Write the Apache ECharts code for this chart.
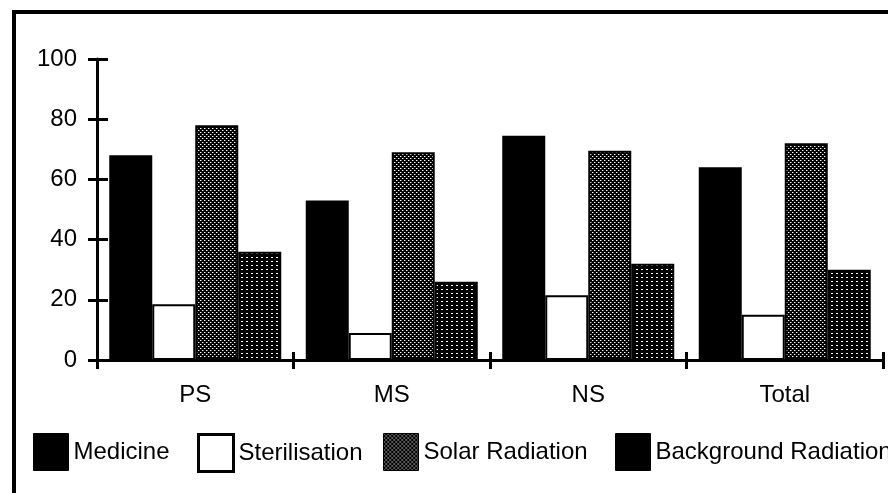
<!DOCTYPE html>
<html>
<head>
<meta charset="utf-8">
<script src="https://cdn.jsdelivr.net/npm/echarts@6/dist/echarts.min.js"></script>
<style>
html,body{margin:0;padding:0;background:#fff;}
#c{width:888px;height:493px;}
</style>
</head>
<body>
<div id="c"></div>
<script>
const categories = ['PS', 'MS', 'NS', 'Total'];
const seriesNames = ['Medicine', 'Sterilisation', 'Solar Radiation', 'Background Radiation'];
const medicine = [68, 53, 74.5, 64];
const sterilisation = [18.5, 9, 21.5, 15];
const solarRadiation = [78, 69, 69.5, 72];
const backgroundRadiation = [36, 26, 32, 30];
const yTicks = [0, 20, 40, 60, 80, 100];

function makePattern(w, h, dots, dotW, dotH, halo) {
  const cv = document.createElement('canvas');
  cv.width = w; cv.height = h;
  const ctx = cv.getContext('2d');
  ctx.fillStyle = '#000';
  ctx.fillRect(0, 0, w, h);
  dots.forEach(function (d) {
    if (halo) {
      ctx.fillStyle = halo;
      ctx.fillRect(d[0] + dotW, d[1], 1, dotH);
    }
    ctx.fillStyle = '#fff';
    ctx.fillRect(d[0], d[1], dotW, dotH);
  });
  return cv;
}
const solarPattern = makePattern(4, 4, [[0, 0], [2, 2]], 1, 1, '#666');
const bgPattern = makePattern(5, 4, [[1, 1]], 2, 1, null);

const FONT = 'Liberation Sans, Arial, Helvetica, sans-serif';
const chart = echarts.init(document.getElementById('c'), null, {renderer: 'canvas'});

const axisLineStyle = {color: '#000', width: 3};
const barBase = {borderColor: '#000', borderWidth: 2};

const legendIcons = [
  {color: '#000', borderColor: '#000', borderWidth: 1},
  {color: '#fff', borderColor: '#000', borderWidth: 3},
  {color: {image: solarPattern, repeat: 'repeat'}, borderColor: '#000', borderWidth: 1},
  {color: '#000', borderColor: '#000', borderWidth: 1}
];
const legendLefts = [33, 197, 383, 615];

chart.setOption({
  animation: false,
  backgroundColor: '#fff',
  grid: {left: 97, right: 5, top: 59, bottom: 133, containLabel: false},
  legend: seriesNames.map(function (n, i) {
    return {
      left: legendLefts[i], top: 433, padding: 0,
      itemWidth: 35, itemHeight: 37, itemGap: 0,
      icon: 'rect',
      selectedMode: false,
      textStyle: {fontFamily: FONT, fontSize: 24, color: '#000'},
      data: [{name: n, itemStyle: legendIcons[i]}]
    };
  }),
  xAxis: [{
    type: 'category', data: categories, position: 'bottom',
    axisLine: {lineStyle: axisLineStyle},
    axisTick: {show: true, length: 9, lineStyle: {color: '#000', width: 3}},
    axisLabel: {fontFamily: FONT, fontSize: 24, color: '#000', margin: 23},
    splitLine: {show: false}
  }, {
    type: 'category', data: categories, position: 'bottom', offset: 0,
    axisLine: {show: false, onZero: false},
    axisTick: {show: true, inside: true, length: 8, lineStyle: {color: '#000', width: 3}},
    axisLabel: {show: false},
    splitLine: {show: false}
  }],
  yAxis: [{
    type: 'value', min: 0, max: 100, interval: 20,
    axisLine: {show: true, lineStyle: axisLineStyle},
    axisTick: {show: true, length: 9, lineStyle: {color: '#000', width: 3}},
    axisLabel: {fontFamily: FONT, fontSize: 24, color: '#000', margin: 20,
      formatter: function (v) { return yTicks.indexOf(v) >= 0 ? String(v) : ''; }},
    splitLine: {show: false}
  }, {
    type: 'value', min: 0, max: 100, interval: 20, position: 'left',
    axisLine: {show: false},
    axisTick: {show: true, inside: true, length: 11, lineStyle: {color: '#000', width: 3}},
    axisLabel: {show: false},
    splitLine: {show: false}
  }],
  series: [
    {name: seriesNames[0], type: 'bar', data: medicine, barWidth: 43, barGap: '0%',
      itemStyle: Object.assign({color: '#000'}, barBase)},
    {name: seriesNames[1], type: 'bar', data: sterilisation, barWidth: 43, barGap: '0%',
      itemStyle: Object.assign({color: '#fff'}, barBase)},
    {name: seriesNames[2], type: 'bar', data: solarRadiation, barWidth: 43, barGap: '0%',
      itemStyle: Object.assign({color: {image: solarPattern, repeat: 'repeat'}}, barBase)},
    {name: seriesNames[3], type: 'bar', data: backgroundRadiation, barWidth: 43, barGap: '0%',
      itemStyle: Object.assign({color: {image: bgPattern, repeat: 'repeat'}}, barBase)}
  ],
  graphic: [
    {type: 'rect', shape: {x: 12, y: 10, width: 876, height: 4}, style: {fill: '#000'}, z: 100},
    {type: 'rect', shape: {x: 12, y: 10, width: 4, height: 483}, style: {fill: '#000'}, z: 100}
  ]
});
</script>
</body>
</html>
